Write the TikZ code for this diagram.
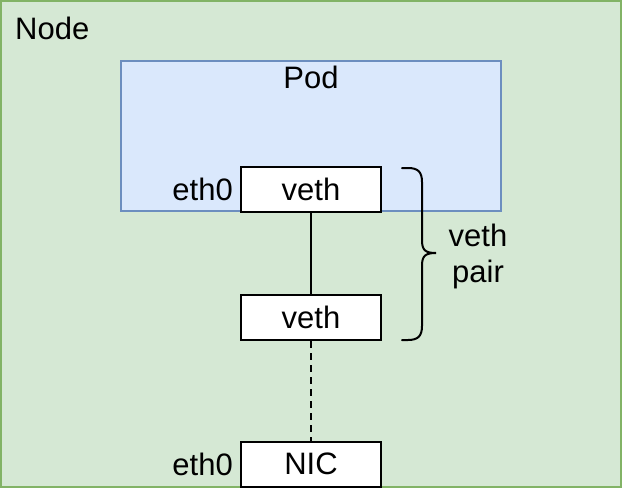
\documentclass[tikz,border=0pt]{standalone}
\usepackage{fontspec}
\setmainfont{Liberation Sans}
\definecolor{nodefill}{HTML}{D5E8D4}
\definecolor{nodedraw}{HTML}{82B366}
\definecolor{podfill}{HTML}{DAE8FC}
\definecolor{poddraw}{HTML}{6C8EBF}
\begin{document}
\begin{tikzpicture}[x=1pt,y=-1pt,
  lbl/.style={font=\fontsize{31}{36}\selectfont, inner sep=0pt},
  ifbox/.style={draw=black, fill=white, line width=2pt, minimum width=140pt, minimum height=45pt, inner sep=0pt, font=\fontsize{31}{36}\selectfont},
  link/.style={line width=1.5pt, draw=black}]
\useasboundingbox (0,0) rectangle (622,488);
\draw[fill=nodefill, draw=nodedraw, line width=2pt] (1,1) rectangle (621,487);
\node[lbl, anchor=base west] (nodelbl) at (15,39) {Node};
\draw[fill=podfill, draw=poddraw, line width=2pt] (121,61) rectangle (501,211);
\node[lbl, anchor=base] (podlbl) at (311,88) {Pod};
\node[ifbox] (veth1) at (311,189.5) {veth};
\node[ifbox] (veth2) at (311,317.5) {veth};
\node[ifbox] (nic) at (311,464) {NIC};
\node[lbl, anchor=east] (eth0a) at (233,189.5) {eth0};
\node[lbl, anchor=east] (eth0b) at (233,464) {eth0};
\draw[link] (veth1.south) -- (veth2.north);
\draw[link, dash pattern=on 7pt off 5pt] (veth2.south) -- (nic.north);
\draw[line width=2pt, line cap=round] (402,168) -- (408,168) .. controls (418,168) and (422,172) .. (422,182) -- (422,240) .. controls (422,250) and (425,253) .. (436,253) .. controls (425,253) and (422,256) .. (422,266) -- (422,326) .. controls (422,336) and (418,340) .. (408,340) -- (402,340);
\node[lbl, align=center, font=\fontsize{31}{36}\selectfont] (pairlbl) at (478,256) {veth\\pair};
\end{tikzpicture}
\end{document}
